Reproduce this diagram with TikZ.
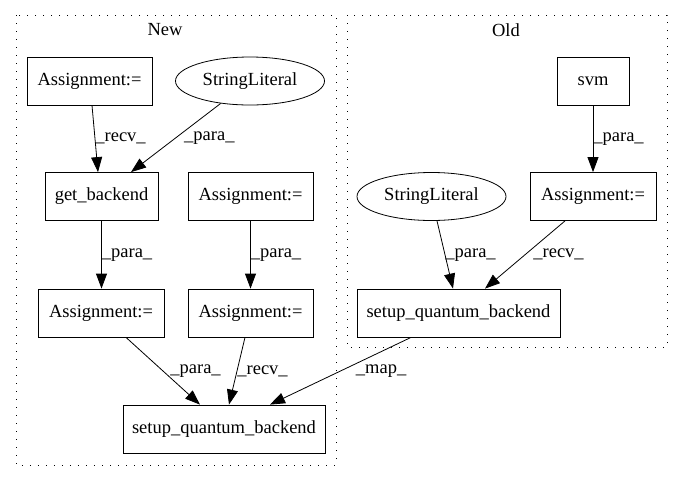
\documentclass[tikz,border=0pt]{standalone}
\usepackage{fontspec}
\setmainfont{Liberation Serif}
\usetikzlibrary{arrows.meta, shapes.geometric}
\tikzset{x=1pt, y=-1pt}
\tikzset{
    box/.style={rectangle, draw, thick, minimum height=48pt, inner sep=0pt,
    	font=\fontsize{18.5}{20}\selectfont},
    oval/.style={ellipse, draw, thick, minimum width=149pt, minimum height=48pt,
    	inner sep=0pt, font=\fontsize{18.5}{20}\selectfont},
    flow/.style={-{Triangle[length=15pt, width=11pt]}, thick},
    lbl/.style={anchor=west, inner sep=0pt, font=\fontsize{18.5}{20}\selectfont},
    cluster/.style={draw, thick, dash pattern=on 1.3pt off 6.7pt}
}

\begin{document}
\begin{tikzpicture}
  \useasboundingbox (0,0) rectangle (683,480);

  % clusters
  \draw[cluster] (16,15) rectangle (336,465);
  \node (tnew) [font=\fontsize{18.5}{20}\selectfont] at (165,30) {New};
  \draw[cluster] (347,15) rectangle (667,347);
  \node (told) [font=\fontsize{18.5}{20}\selectfont] at (506,30) {Old};

  % new
  \node (a1) [box, minimum width=125pt] at (89.5,81) {Assignment:=};
  \node (s1) [oval] at (250,81) {StringLiteral};
  \node (gb) [box, minimum width=113pt] at (101.5,196.5) {get\_backend};
  \node (a2) [box, minimum width=125pt] at (250.5,196.5) {Assignment:=};
  \node (a3) [box, minimum width=126pt] at (101,313) {Assignment:=};
  \node (a4) [box, minimum width=125pt] at (250.5,313) {Assignment:=};
  \node (q1) [box, minimum width=202pt] at (224,429) {setup\_quantum\_backend};

  % old
  \node (svm) [box, minimum width=72pt] at (593,81) {svm};
  \node (a5) [box, minimum width=126pt] at (593,196.5) {Assignment:=};
  \node (s2) [oval] at (431.5,196.5) {StringLiteral};
  \node (q2) [box, minimum width=203pt] at (458.5,313) {setup\_quantum\_backend};

  \draw[flow] (a1.south -| 92,0) -- node[lbl, pos=.5] {\_recv\_} (gb.north -| 98,0);
  \draw[flow] (s1) -- node[lbl, pos=.5, xshift=8pt] {\_para\_} (gb.north -| 131,0);
  \draw[flow] (gb) -- node[lbl, pos=.5] {\_para\_} (a3.north -| gb);
  \draw[flow] (a2) -- node[lbl, pos=.5] {\_para\_} (a4);
  \draw[flow] (a3.south -| 126,0) -- node[lbl, pos=.5, xshift=7pt] {\_para\_} (q1.north -| 200,0);
  \draw[flow] (a4.south -| 245,0) -- node[lbl, pos=.5] {\_recv\_} (q1.north -| 229,0);
  \draw[flow] (q2.south -| 411,0) -- node[lbl, pos=.5, xshift=15pt] {\_map\_} (q1.north -| 270,0);
  \draw[flow] (svm) -- node[lbl, pos=.5] {\_para\_} (a5);
  \draw[flow] (s2.south -| 437,0) -- node[lbl, pos=.5] {\_para\_} (q2.north -| 453,0);
  \draw[flow] (a5.south -| 565,0) -- node[lbl, pos=.5, xshift=8pt] {\_recv\_} (q2.north -| 485,0);

\end{tikzpicture}
\end{document}
